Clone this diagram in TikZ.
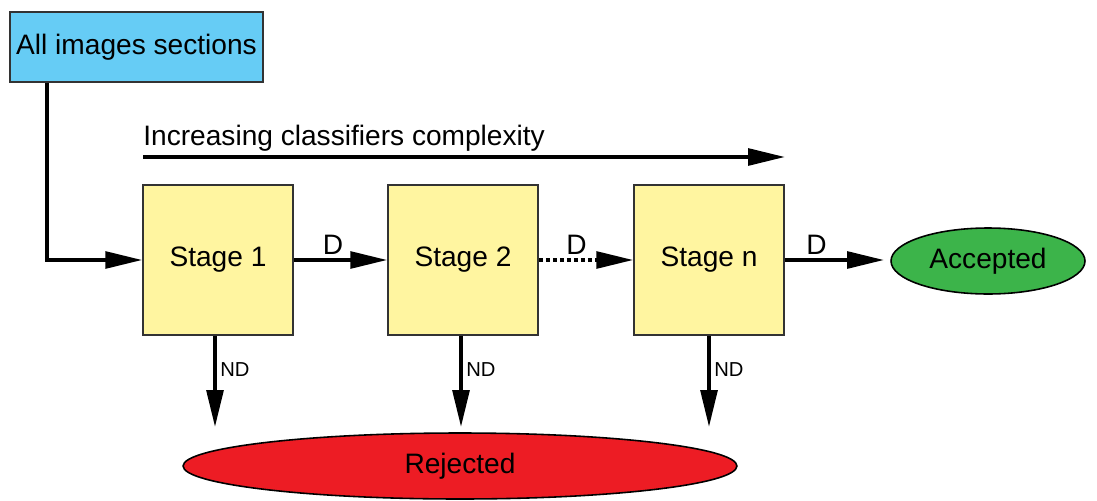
\documentclass[tikz,border=0pt]{standalone}
\usepackage{fontspec}
\setmainfont{Liberation Sans}
\usetikzlibrary{arrows.meta,shapes.geometric}
\definecolor{boxblue}{RGB}{102,204,245}
\definecolor{boxyellow}{RGB}{255,245,160}
\definecolor{okgreen}{RGB}{60,180,74}
\definecolor{nored}{RGB}{237,28,36}
\tikzset{
  lbl/.style={font=\fontsize{16}{19}\selectfont},
  small/.style={font=\fontsize{11.5}{14}\selectfont},
  stagebox/.style={draw=black!80, line width=0.9pt, fill=boxyellow, minimum width=3cm, minimum height=3cm, inner sep=0pt, lbl},
  conn/.style={line width=2.1pt, -{Triangle[length=21pt,width=9.5pt]}},
  endell/.style={ellipse, draw=black, line width=0.9pt, inner sep=0pt, lbl},
}
\begin{document}
\begin{tikzpicture}[x=0.02cm,y=-0.02cm]
\useasboundingbox (0,0) rectangle (1097,500);
\node[draw=black!80, line width=0.9pt, fill=boxblue, minimum width=5.06cm, minimum height=1.4cm, inner sep=0pt, lbl] (src) at (136.5,47) {All images sections};
\node[stagebox] (s1) at (218,260) {Stage 1};
\node[stagebox] (s2) at (463,260) {Stage 2};
\node[stagebox] (sn) at (709,260) {Stage n};
\node[endell, fill=okgreen, minimum width=3.88cm, minimum height=1.32cm] (acc) at (988,261) {Accepted};
\node[endell, fill=nored, minimum width=11.08cm, minimum height=1.32cm] (rej) at (460,466) {Rejected};
% complexity arrow
\node[lbl, anchor=base west, inner sep=0pt] (cx) at (143,145) {Increasing classifiers complexity};
\coordinate (ca) at (143,157);
\coordinate (cb) at (785,157);
\draw[conn] (ca) -- (cb);
% entry
\coordinate (bend) at (47,260);
\draw[conn] (src.south -| bend) -- (bend) -- (s1.west);
% D arrows
\draw[conn] (s1.east) -- node[lbl, above, pos=0.42, inner sep=2pt] (d1) {D} (s2.west);
\draw[conn, dash pattern=on 2.5pt off 1.5pt] (s2.east) -- node[lbl, above, pos=0.4, inner sep=2pt] (d2) {D} (sn.west);
\coordinate (ae) at (884,260);
\draw[conn] (sn.east) -- node[lbl, above, pos=0.32, inner sep=2pt] (d3) {D} (ae);
% ND arrows
\coordinate (r1) at (215,427);
\coordinate (r2) at (461,427);
\coordinate (r3) at (709,427);
\draw[conn] (s1.south -| r1) -- node[small, right, pos=0.37, inner sep=2pt] (n1) {ND} (r1);
\draw[conn] (s2.south -| r2) -- node[small, right, pos=0.37, inner sep=2pt] (n2) {ND} (r2);
\draw[conn] (sn.south -| r3) -- node[small, right, pos=0.37, inner sep=2pt] (n3) {ND} (r3);
\end{tikzpicture}
\end{document}
